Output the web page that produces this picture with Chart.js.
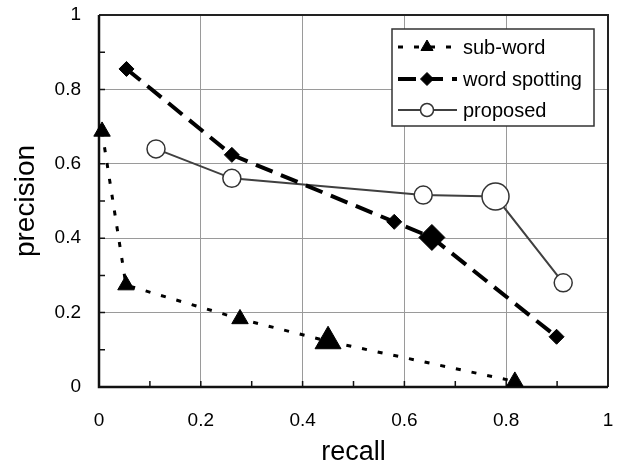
<!DOCTYPE html>
<html>
<head>
<meta charset="utf-8">
<script src="https://cdn.jsdelivr.net/npm/chart.js@4.4.1/dist/chart.umd.min.js"></script>
<style>
  body { margin: 0; background: #fff; }
  #wrap { width: 626px; height: 464px; }
</style>
</head>
<body>
<div id="wrap"><canvas id="chart" width="626" height="464"></canvas></div>
<script>
// values
const seriesNames = ["sub-word", "word spotting", "proposed"];
const subRecall = [0.006, 0.053, 0.277, 0.45, 0.817];
const subPrecision = [0.687, 0.274, 0.183, 0.123, 0.015];
const wordRecall = [0.054, 0.261, 0.58, 0.654, 0.899];
const wordPrecision = [0.855, 0.624, 0.444, 0.402, 0.135];
const propRecall = [0.112, 0.261, 0.637, 0.779, 0.912];
const propPrecision = [0.64, 0.561, 0.516, 0.512, 0.28];
const tickValues = [0, 0.2, 0.4, 0.6, 0.8, 1];

const FONT = "'Liberation Sans', Arial, sans-serif";

function toPoints(xs, ys) {
  return xs.map((x, i) => ({x: x, y: ys[i]}));
}

function isMajor(v) {
  return Math.round(v * 10) % 2 === 0;
}

// frame + inward minor ticks, drawn under the data
const framePlugin = {
  id: "frame",
  beforeDatasetsDraw(chart) {
    const {ctx, chartArea: a, scales} = chart;
    ctx.save();
    ctx.strokeStyle = "#111";
    ctx.lineWidth = 1.5;
    for (let i = 1; i < 10; i++) {
      const v = i / 10;
      const px = scales.x.getPixelForValue(v);
      const py = scales.y.getPixelForValue(v);
      ctx.beginPath();
      ctx.moveTo(px, a.bottom);
      ctx.lineTo(px, a.bottom - 6);
      ctx.moveTo(a.left, py);
      ctx.lineTo(a.left + 6, py);
      ctx.stroke();
    }
    ctx.strokeStyle = "#222";
    ctx.lineWidth = 2;
    ctx.beginPath();
    ctx.moveTo(a.left, a.top);
    ctx.lineTo(a.right, a.top);
    ctx.lineTo(a.right, a.bottom);
    ctx.stroke();
    ctx.strokeStyle = "#111";
    ctx.lineWidth = 2.5;
    ctx.beginPath();
    ctx.moveTo(a.left, a.top);
    ctx.lineTo(a.left, a.bottom);
    ctx.lineTo(a.right, a.bottom);
    ctx.stroke();
    ctx.restore();
  },
  afterDraw(chart) {
    // legend box inside the plot, top right
    const ctx = chart.ctx;
    const box = {x: 392, y: 29, w: 202, h: 97};
    const rows = [47, 79, 110];
    const markerR = [7, 6.5, 6.5];
    ctx.save();
    ctx.fillStyle = "#fff";
    ctx.fillRect(box.x, box.y, box.w, box.h);
    ctx.strokeStyle = "#333";
    ctx.lineWidth = 1.5;
    ctx.strokeRect(box.x, box.y, box.w, box.h);
    chart.data.datasets.forEach((ds, i) => {
      const y = rows[i];
      ctx.save();
      ctx.strokeStyle = ds.borderColor;
      ctx.lineWidth = ds.borderWidth;
      ctx.setLineDash(ds.borderDash || []);
      ctx.beginPath();
      ctx.moveTo(398, y);
      ctx.lineTo(457, y);
      ctx.stroke();
      ctx.restore();
      ctx.save();
      ctx.fillStyle = ds.pointBackgroundColor;
      ctx.strokeStyle = ds.pointBorderColor;
      ctx.lineWidth = ds.pointBorderWidth;
      Chart.helpers.drawPoint(ctx, {
        pointStyle: ds.pointStyle,
        radius: markerR[i],
        rotation: 0,
        borderWidth: ds.pointBorderWidth
      }, 427, y);
      ctx.restore();
      ctx.fillStyle = "#000";
      ctx.font = "20px " + FONT;
      ctx.textBaseline = "middle";
      ctx.fillText(ds.label, 463, y + 1);
    });
    ctx.restore();
  }
};

new Chart(document.getElementById("chart"), {
  type: "scatter",
  data: {
    datasets: [
      {
        label: seriesNames[0],
        data: toPoints(subRecall, subPrecision),
        showLine: true,
        borderColor: "#000",
        borderWidth: 3,
        borderDash: [5, 11],
        pointStyle: "triangle",
        pointRadius: [9.5, 9.5, 9.5, 15, 9.5],
        pointBackgroundColor: "#000",
        pointBorderColor: "#000",
        pointBorderWidth: 1,
        clip: false
      },
      {
        label: seriesNames[1],
        data: toPoints(wordRecall, wordPrecision),
        showLine: true,
        borderColor: "#000",
        borderWidth: 4,
        borderDash: [18, 9],
        pointStyle: "rectRot",
        pointRadius: [7.5, 7.5, 7.5, 13, 7.5],
        pointBackgroundColor: "#000",
        pointBorderColor: "#000",
        pointBorderWidth: 1,
        clip: false
      },
      {
        label: seriesNames[2],
        data: toPoints(propRecall, propPrecision),
        showLine: true,
        borderColor: "#404040",
        borderWidth: 2,
        pointStyle: "circle",
        pointRadius: [9, 9, 9, 13.5, 9],
        pointBackgroundColor: "#fff",
        pointBorderColor: "#333",
        pointBorderWidth: 1.5,
        clip: false
      }
    ]
  },
  options: {
    responsive: false,
    animation: false,
    devicePixelRatio: 1,
    layout: {padding: {top: 15, right: 18, left: 0, bottom: 0}},
    plugins: {
      legend: {display: false},
      tooltip: {enabled: false}
    },
    scales: {
      x: {
        type: "linear",
        min: 0,
        max: 1,
        afterFit: (s) => { s.height = 77; s.paddingLeft = 0; s.paddingRight = 0; },
        border: {display: false},
        grid: {
          drawTicks: false,
          lineWidth: 1,
          color: (c) => isMajor(c.tick.value) ? "#9a9a9a" : "rgba(0,0,0,0)"
        },
        ticks: {
          stepSize: 0.1,
          autoSkip: false,
          maxRotation: 0,
          padding: 22,
          color: "#000",
          font: {family: FONT, size: 19},
          callback: (v) => isMajor(v) ? String(tickValues[Math.round(v * 5)]) : ""
        },
        title: {
          display: true,
          text: "recall",
          color: "#000",
          font: {family: FONT, size: 27, lineHeight: 1},
          padding: {top: 0, bottom: -2}
        }
      },
      y: {
        type: "linear",
        min: 0,
        max: 1,
        afterFit: (s) => { s.width = 99; s.paddingTop = 0; s.paddingBottom = 0; },
        border: {display: false},
        grid: {
          drawTicks: false,
          lineWidth: 1,
          color: (c) => isMajor(c.tick.value) ? "#9a9a9a" : "rgba(0,0,0,0)"
        },
        ticks: {
          stepSize: 0.1,
          autoSkip: false,
          padding: 18,
          color: "#000",
          font: {family: FONT, size: 19},
          callback: (v) => isMajor(v) ? String(tickValues[Math.round(v * 5)]) : ""
        },
        title: {
          display: true,
          text: "precision",
          color: "#000",
          font: {family: FONT, size: 28, lineHeight: 1},
          padding: {top: 12, bottom: 0}
        }
      }
    }
  },
  plugins: [framePlugin]
});
</script>
</body>
</html>
